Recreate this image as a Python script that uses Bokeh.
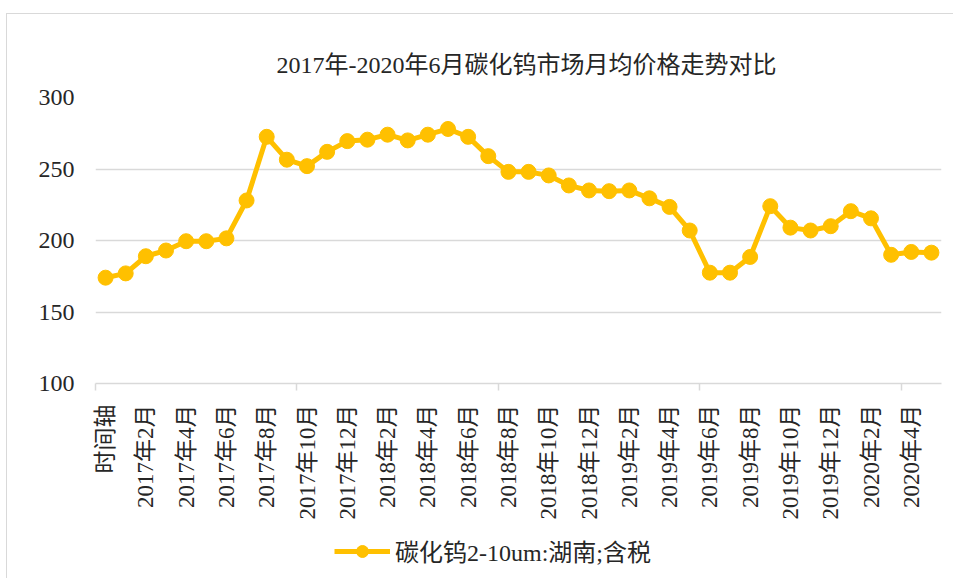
import math
from bokeh.plotting import figure
from bokeh.layouts import column
from bokeh.models import FixedTicker, Legend, LegendItem, Range1d
from bokeh.embed import file_html
from bokeh.resources import INLINE

title_text = "2017年-2020年6月碳化钨市场月均价格走势对比"
series_name = "碳化钨2-10um:湖南;含税"

categories = [
    "时间轴", "2017年1月", "2017年2月", "2017年3月", "2017年4月", "2017年5月",
    "2017年6月", "2017年7月", "2017年8月", "2017年9月", "2017年10月", "2017年11月",
    "2017年12月", "2018年1月", "2018年2月", "2018年3月", "2018年4月", "2018年5月",
    "2018年6月", "2018年7月", "2018年8月", "2018年9月", "2018年10月", "2018年11月",
    "2018年12月", "2019年1月", "2019年2月", "2019年3月", "2019年4月", "2019年5月",
    "2019年6月", "2019年7月", "2019年8月", "2019年9月", "2019年10月", "2019年11月",
    "2019年12月", "2020年1月", "2020年2月", "2020年3月", "2020年4月", "2020年5月",
]

prices = [
    174, 177, 189, 193, 199.5, 199.5, 201.5, 228, 272.5, 256.5, 252, 262,
    269.5, 270.5, 274, 270, 274, 278, 272.5, 259, 248, 248, 245.5, 238.5,
    235, 234.5, 235, 229.5, 223.5, 207, 177.5, 177.5, 188.5, 224, 209, 207,
    210, 220.5, 215.5, 190, 192, 191.5,
]

y_ticks = [100, 150, 200, 250, 300]

FONT = "'Liberation Serif', 'Noto Sans CJK SC', serif"
GOLD = "#FFC000"
GRID = "#d9d9d9"

x = list(range(len(categories)))

p = figure(
    frame_width=846, frame_height=286,
    x_range=Range1d(-0.5, len(categories) - 0.5),
    y_range=Range1d(y_ticks[0], y_ticks[-1]),
    output_backend="svg", toolbar_location=None,
    min_border_left=88, min_border_right=12, min_border_top=83, min_border_bottom=145,
)
p.outline_line_color = None
p.background_fill_color = "white"
p.border_fill_color = "white"

p.title.text = title_text
p.title.align = "left"
p.title.offset = 181
p.title.text_font = FONT
p.title.text_font_size = "24px"
p.title.text_font_style = "normal"
p.title.text_color = "#262626"
p.title.standoff = 39

# y axis
p.yaxis.ticker = FixedTicker(ticks=y_ticks)
p.yaxis.axis_line_color = None
p.yaxis.major_tick_line_color = None
p.yaxis.minor_tick_line_color = None
p.yaxis.major_label_text_font = FONT
p.yaxis.major_label_text_font_size = "24px"
p.yaxis.major_label_text_color = "#262626"
p.yaxis.major_label_standoff = 15
p.ygrid.grid_line_color = GRID
p.ygrid.grid_line_width = 1.5
p.xgrid.grid_line_color = None

# x axis
shown = list(range(0, len(categories), 2))
p.xaxis.ticker = FixedTicker(ticks=shown, minor_ticks=[-0.5, 9.5, 19.5, 29.5, 39.5])
p.xaxis.major_label_overrides = {i: categories[i] for i in shown}
p.xaxis.major_label_orientation = math.pi / 2
p.xaxis.axis_line_color = GRID
p.xaxis.axis_line_width = 1.5
p.xaxis.major_tick_line_color = None
p.xaxis.minor_tick_line_color = GRID
p.xaxis.minor_tick_line_width = 1.5
p.xaxis.minor_tick_in = 0
p.xaxis.minor_tick_out = 7
p.xaxis.major_label_text_font = FONT
p.xaxis.major_label_text_font_size = "23px"
p.xaxis.major_label_text_color = "#262626"
p.xaxis.major_label_standoff = 14

p.line(x, prices, line_color=GOLD, line_width=5)
p.scatter(x, prices, size=15, fill_color=GOLD, line_color=GOLD)

# legend strip below the chart (series drawn off-view; only its legend entry shows)
lf = figure(width=946, height=50, output_backend="svg", toolbar_location=None,
            x_axis_type=None, y_axis_type=None,
            x_range=Range1d(1000, 1001), y_range=Range1d(1000, 1001),
            min_border_left=0, min_border_right=0, min_border_top=0, min_border_bottom=0)
lf.outline_line_color = None
lf.grid.grid_line_color = None
lf.border_fill_color = "white"
leg_line = lf.line(x, prices, line_color=GOLD, line_width=5)
leg_dot = lf.scatter(x, prices, size=15, fill_color=GOLD, line_color=GOLD)

legend = Legend(items=[LegendItem(label=series_name, renderers=[leg_line, leg_dot])],
                orientation="horizontal", location=(239, 10))
legend.label_text_font = FONT
legend.label_text_font_size = "24px"
legend.label_text_color = "#262626"
legend.border_line_color = None
legend.background_fill_alpha = 0
legend.glyph_width = 56
legend.glyph_height = 30
legend.label_standoff = 5
legend.margin = 0
legend.padding = 2
lf.add_layout(legend)

layout = column(p, lf, spacing=0,
                styles={"border-top": "1.5px solid #d9d9d9", "border-left": "1.5px solid #d9d9d9",
                        "margin-top": "13px", "margin-left": "6px"})

open("out.html", "w").write(file_html(layout, INLINE))
